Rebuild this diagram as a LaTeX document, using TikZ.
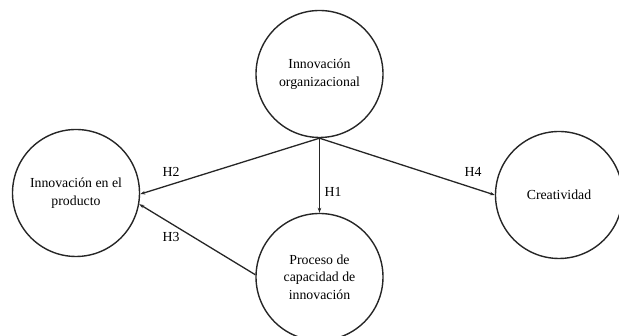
\documentclass[tikz,border=0pt]{standalone}
\usepackage{fontspec}
\setmainfont{Liberation Serif}
\usetikzlibrary{arrows.meta}
\begin{document}
\begin{tikzpicture}[x=1pt,y=1pt,
  construct/.style={draw=black!85,line width=1.4pt,circle,minimum size=127pt,inner sep=0pt,align=center,
    font=\fontsize{13.8}{17.7}\selectfont},
  link/.style={draw=black!85,line width=1.3pt,-{Stealth[length=5pt,width=3.5pt]}},
  hlabel/.style={font=\fontsize{13.8}{16}\selectfont,inner sep=0pt}]
\useasboundingbox (0,0) rectangle (619,336);
\node[construct] (org) at (319.5,262) {Innovación\\organizacional};
\node[construct] (prod) at (76,143) {Innovación en el\\producto};
\node[construct] (proc) at (319.5,59) {Proceso de\\capacidad de\\innovación};
\node[construct] (crea) at (559,141) {Creatividad};
\draw[link] (org.south) -- (prod.-1);
\draw[link] (org.south) -- (proc.north);
\draw[link] (org.south) -- (crea.180);
\draw[link] (proc.178) -- (prod.-10);
\node[hlabel] (h2) at (171,164) {H2};
\node[hlabel] (h3) at (171,99) {H3};
\node[hlabel] (h1) at (333,144) {H1};
\node[hlabel] (h4) at (473,164) {H4};
\end{tikzpicture}
\end{document}
